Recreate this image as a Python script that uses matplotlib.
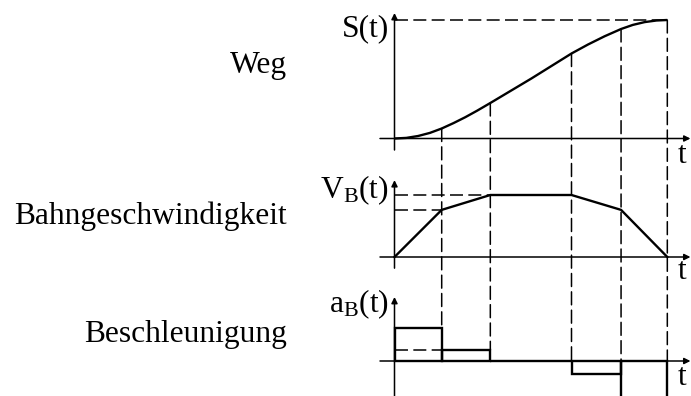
import numpy as np
import matplotlib
matplotlib.use("Agg")
import matplotlib.pyplot as plt
from matplotlib.patches import ConnectionPatch

plt.rcParams['font.family'] = ['Liberation Serif', 'DejaVu Serif']
plt.rcParams['mathtext.fontset'] = 'custom'
plt.rcParams['mathtext.rm'] = 'Liberation Serif'
plt.rcParams['mathtext.it'] = 'Liberation Serif:italic'
plt.rcParams['mathtext.default'] = 'regular'

# ---- data ----
t_break = [0, 1.0, 2.03, 3.75, 4.8, 5.78]          # phase boundaries
v_break = [0, 0.76, 1.0, 1.0, 0.76, 0]              # Bahngeschwindigkeit at boundaries
a_phase = [1.0, 0.33, 0.0, -0.38, -1.2]             # Beschleunigung per phase
t_s = [0, 0.25, 0.5, 0.75, 1.0, 1.25, 1.5, 1.75, 2.03, 2.9, 3.75,
       4.1, 4.45, 4.8, 5.05, 5.3, 5.55, 5.78]
s_vals = [0, 0.6, 2.5, 5.6, 10, 15.4, 21.3, 27.8, 35.5, 60, 85,
          94, 102.2, 109.5, 113.6, 116.4, 118, 118.5]  # Weg

row_labels = ['Weg', 'Bahngeschwindigkeit', 'Beschleunigung']
axis_labels = ['S(t)', r'$V_B(t)$', r'$a_B(t)$']

W, H = 691, 396
fig = plt.figure(figsize=(W / 100, H / 100), dpi=100)

def fx(x):
    return x / W

def fy(y):
    return 1 - y / H

x0, x1 = 380, 691
ax1 = fig.add_axes([fx(x0), fy(150), (x1 - x0) / W, 150 / H])
ax2 = fig.add_axes([fx(x0), fy(270), (x1 - x0) / W, 120 / H])
ax3 = fig.add_axes([fx(x0), fy(396), (x1 - x0) / W, 126 / H])

px_per_t = 47.2
xlim = (-(394.5 - x0) / px_per_t, (x1 - 394.5) / px_per_t)
for ax in (ax1, ax2, ax3):
    ax.set_xlim(*xlim)
    ax.axis('off')
    ax.patch.set_alpha(0)

ax1.set_ylim(-11.5, 138.5)
ax2.set_ylim(-13 / 62, 107 / 62)
ax3.set_ylim(-35 / 33, 91 / 33)

LW = 1.7
ALW = 1.1
DASH = (0, (8.5, 3.5))
DLW = 1.1

def axes_arrows(ax, ytip, ybot):
    arr = dict(arrowstyle='-|>', lw=ALW, color='k', mutation_scale=9,
               shrinkA=0, shrinkB=0)
    ax.annotate('', xy=(6.27, 0), xytext=(xlim[0], 0), arrowprops=arr,
                annotation_clip=False)
    ax.annotate('', xy=(0, ytip), xytext=(0, ybot), arrowprops=arr,
                annotation_clip=False)

# top: Weg
axes_arrows(ax1, 125.5, -11.5)
ax1.plot(t_s, s_vals, color='k', lw=LW, solid_capstyle='butt')
s_max = max(s_vals)
ax1.plot([0, t_break[-1]], [s_max, s_max], color='k', lw=DLW, linestyle=DASH)

# middle: velocity
axes_arrows(ax2, 1.24, -0.18)
ax2.plot(t_break, v_break, color='k', lw=LW)
ax2.plot([0, t_break[1]], [v_break[1], v_break[1]], color='k', lw=DLW, linestyle=DASH)
ax2.plot([0, t_break[2]], [v_break[2], v_break[2]], color='k', lw=DLW, linestyle=DASH)

# bottom: acceleration
axes_arrows(ax3, 1.94, -35 / 33)
ax3.bar(t_break[:-1], a_phase, width=np.diff(t_break), align='edge',
        fill=False, edgecolor='k', lw=LW)
ax3.plot([0, t_break[1]], [a_phase[1], a_phase[1]], color='k', lw=DLW, linestyle=DASH)

# vertical dashed guides across all three panels
s_at = np.interp(t_break, t_s, s_vals)
ends = [max(a_phase[i - 1], 0) if i <= 2 else 0 for i in range(len(t_break))]
for i in range(1, len(t_break)):
    con = ConnectionPatch(xyA=(t_break[i], s_at[i]), coordsA=ax1.transData,
                          xyB=(t_break[i], ends[i]), coordsB=ax3.transData,
                          color='k', lw=DLW, linestyle=DASH,
                          shrinkA=0, shrinkB=0)
    fig.add_artist(con)

# texts
FS = 22.7
fig.text(fx(287), fy(73), row_labels[0], ha='right', va='baseline', fontsize=FS)
fig.text(fx(287), fy(224), row_labels[1], ha='right', va='baseline', fontsize=FS)
fig.text(fx(287), fy(342), row_labels[2], ha='right', va='baseline', fontsize=FS)

fig.text(fx(389), fy(36), axis_labels[0], ha='right', va='baseline', fontsize=FS)
fig.text(fx(389), fy(198), axis_labels[1], ha='right', va='baseline', fontsize=FS)
fig.text(fx(389), fy(312), axis_labels[2], ha='right', va='baseline', fontsize=FS)

for yb in (163, 279, 385):
    fig.text(fx(678), fy(yb), 't', ha='left', va='baseline', fontsize=FS)

fig.savefig('out.png', dpi=100)
